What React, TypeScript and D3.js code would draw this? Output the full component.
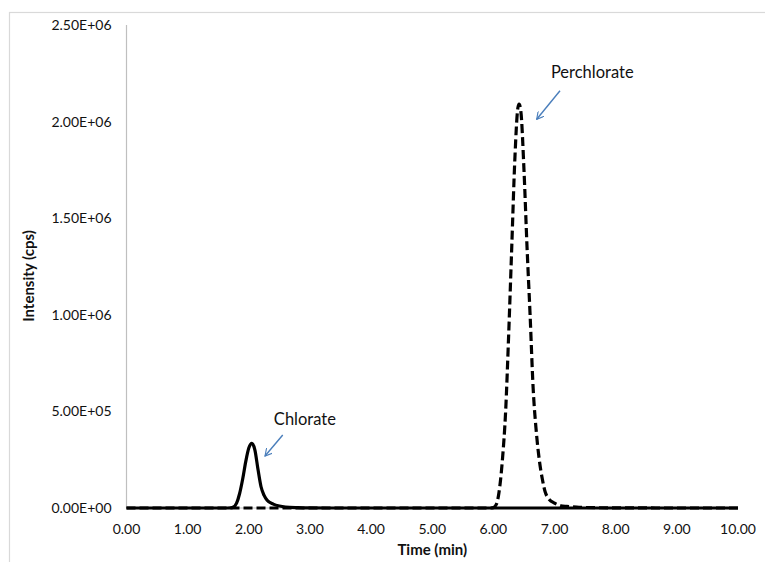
import React, { useEffect, useRef } from 'react';
import * as d3 from 'd3';

// chlorate trace (solid line)
const chlorateTime = [0, 1.6, 1.7, 1.75, 1.8, 1.85, 1.9, 1.95, 2.0, 2.05, 2.1, 2.15, 2.2, 2.25, 2.3, 2.4, 2.5, 2.6, 2.8, 3.0, 3.5, 10];
const chlorateCps = [0, 0, 1000, 5000, 25000, 75000, 150000, 240000, 310000, 335000, 300000, 200000, 110000, 65000, 40000, 20000, 10000, 5000, 2000, 800, 0, 0];

// perchlorate trace (dashed line)
const perchlorateTime = [0, 5.95, 6.0, 6.05, 6.1, 6.15, 6.2, 6.25, 6.3, 6.35, 6.4, 6.42, 6.45, 6.5, 6.55, 6.6, 6.65, 6.7, 6.75, 6.8, 6.85, 6.9, 7.0, 7.1, 7.2, 7.4, 7.7, 8.2, 9.0, 10];
const perchlorateCps = [0, 0, 2000, 20000, 100000, 260000, 500000, 900000, 1350000, 1800000, 2070000, 2090000, 2050000, 1750000, 1350000, 1000000, 620000, 400000, 250000, 150000, 80000, 50000, 25000, 12000, 8000, 4000, 1500, 500, 0, 0];

const xTicks = [0, 1, 2, 3, 4, 5, 6, 7, 8, 9, 10];
const yTicks = [0, 500000, 1000000, 1500000, 2000000, 2500000];

// annotations in data units: label anchor and arrow from/to
const annoNames = ['Chlorate', 'Perchlorate'];
const annoLabel = [[2.41, 430000], [6.94, 2227000]];
const annoArrowFrom = [[2.555, 378000], [7.089, 2160000]];
const annoArrowTo = [[2.265, 269000], [6.708, 2012000]];

const W = 765;
const H = 562;
const margin = { left: 126.5, right: 27, top: 25, bottom: 54 };

const fmtY = (v: number) => {
    if (v === 0) return '0.00E+00';
    const e = Math.floor(Math.log10(v));
    const m = v / Math.pow(10, e);
    return m.toFixed(2) + 'E+' + String(e).padStart(2, '0');
};

export default function App() {
    const ref = useRef<SVGSVGElement>(null);

    useEffect(() => {
        const svg = d3.select(ref.current);
        svg.selectAll('*').remove();

        const x = d3.scaleLinear().domain([0, 10]).range([margin.left, W - margin.right]);
        const y = d3.scaleLinear().domain([0, 2500000]).range([H - margin.bottom, margin.top]);

        const font = 'Lato, "Open Sans", sans-serif';
        const ink = '#111';

        // outer chart frame
        svg.append('rect')
            .attr('x', 9.5).attr('y', 12.5)
            .attr('width', W + 20).attr('height', H + 20)
            .attr('fill', 'white')
            .attr('stroke', '#d9d9d9')
            .attr('stroke-width', 1.2);

        const defs = svg.append('defs');
        defs.append('marker')
            .attr('id', 'openArrow')
            .attr('viewBox', '0 0 10 10')
            .attr('refX', 9).attr('refY', 5)
            .attr('markerWidth', 8).attr('markerHeight', 8)
            .attr('markerUnits', 'userSpaceOnUse')
            .attr('orient', 'auto')
            .append('path')
            .attr('d', 'M0,0 L9,5 L0,10')
            .attr('fill', 'none')
            .attr('stroke', '#4a7ebb')
            .attr('stroke-width', 1.4);

        // axes lines
        svg.append('line')
            .attr('x1', x(0)).attr('x2', x(0))
            .attr('y1', y(2500000)).attr('y2', y(0))
            .attr('stroke', '#bfbfbf').attr('stroke-width', 1.2);
        svg.append('line')
            .attr('x1', x(0)).attr('x2', x(10))
            .attr('y1', y(0)).attr('y2', y(0))
            .attr('stroke', '#bfbfbf').attr('stroke-width', 1.2);

        // tick labels
        svg.append('g').selectAll('text').data(yTicks).enter().append('text')
            .attr('x', 111.5)
            .attr('y', (d) => y(d))
            .attr('dy', '0.35em')
            .attr('text-anchor', 'end')
            .attr('font-family', font)
            .attr('font-size', 14)
            .attr('fill', ink)
            .text((d) => fmtY(d));

        svg.append('g').selectAll('text').data(xTicks).enter().append('text')
            .attr('x', (d) => x(d))
            .attr('y', 533.5)
            .attr('text-anchor', 'middle')
            .attr('font-family', font)
            .attr('font-size', 14)
            .attr('fill', ink)
            .text((d) => d.toFixed(2));

        // axis titles
        svg.append('text')
            .attr('x', x(5))
            .attr('y', 555)
            .attr('text-anchor', 'middle')
            .attr('font-family', font)
            .attr('font-weight', 'bold')
            .attr('font-size', 15)
            .attr('fill', ink)
            .text('Time (min)');

        svg.append('text')
            .attr('transform', 'translate(33.5, 276) rotate(-90)')
            .attr('text-anchor', 'middle')
            .attr('font-family', font)
            .attr('font-weight', 'bold')
            .attr('font-size', 15)
            .attr('fill', ink)
            .text('Intensity (cps)');

        const line = d3.line<[number, number]>()
            .x((d) => x(d[0]))
            .y((d) => y(d[1]))
            .curve(d3.curveMonotoneX);

        const chlorate = chlorateTime.map((t, i) => [t, chlorateCps[i]] as [number, number]);
        const perchlorate = perchlorateTime.map((t, i) => [t, perchlorateCps[i]] as [number, number]);

        svg.append('path')
            .attr('d', line(chlorate))
            .attr('fill', 'none')
            .attr('stroke', 'black')
            .attr('stroke-width', 3.2)
            .attr('stroke-linejoin', 'round');

        svg.append('path')
            .attr('d', line(perchlorate))
            .attr('fill', 'none')
            .attr('stroke', 'black')
            .attr('stroke-width', 3.2)
            .attr('stroke-dasharray', '9,4');

        // annotations
        annoNames.forEach((name, i) => {
            svg.append('line')
                .attr('x1', x(annoArrowFrom[i][0])).attr('y1', y(annoArrowFrom[i][1]))
                .attr('x2', x(annoArrowTo[i][0])).attr('y2', y(annoArrowTo[i][1]))
                .attr('stroke', '#4a7ebb')
                .attr('stroke-width', 1.4)
                .attr('marker-end', 'url(#openArrow)');
            svg.append('text')
                .attr('x', x(annoLabel[i][0]))
                .attr('y', y(annoLabel[i][1]))
                .attr('font-family', font)
                .attr('font-size', 16.5)
                .attr('fill', ink)
                .text(name);
        });
    }, []);

    return (
        <svg ref={ref} width={W} height={H}
            style={{ position: 'absolute', left: 0, top: 0, display: 'block' }} />
    );
}
